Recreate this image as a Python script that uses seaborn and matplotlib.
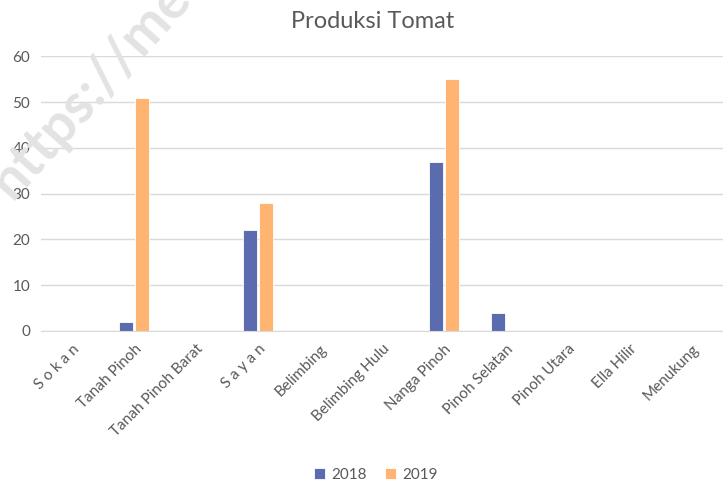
import matplotlib.pyplot as plt
import pandas as pd
import seaborn as sns

kecamatan = ["S o k a n", "Tanah Pinoh", "Tanah Pinoh Barat", "S a y a n", "Belimbing",
             "Belimbing Hulu", "Nanga Pinoh", "Pinoh Selatan", "Pinoh Utara", "Ella Hilir", "Menukung"]
prod_2018 = [0, 2, 0, 22, 0, 0, 37, 4, 0, 0, 0]
prod_2019 = [0, 51, 0, 28, 0, 0, 55, 0, 0, 0, 0]
years = ["2018", "2019"]

df = pd.DataFrame({"Kecamatan": kecamatan * 2,
                   "Tahun": [years[0]] * len(kecamatan) + [years[1]] * len(kecamatan),
                   "Produksi": prod_2018 + prod_2019})

sns.set_style("white")
plt.rcParams["font.family"] = ["Lato", "DejaVu Sans"]
grey = "#595959"

fig = plt.figure(figsize=(7.23, 4.86), dpi=100)
ax = fig.add_axes([0.057, 0.319, 0.943, 0.565])

sns.barplot(data=df, x="Kecamatan", y="Produksi", hue="Tahun",
            palette=["#5B6BB0", "#FFB471"], saturation=1, width=0.52, gap=0.12,
            edgecolor="white", linewidth=0.6, ax=ax)

ax.set_ylim(0, 60)
ax.set_xlim(-0.5, len(kecamatan) - 0.5)
ax.set_yticks(range(0, 61, 10))
ax.yaxis.grid(True, color="#D9D9D9", lw=1)
ax.set_axisbelow(True)
for s in ["left", "right", "top"]:
    ax.spines[s].set_visible(False)
ax.spines["bottom"].set_color("#D9D9D9")
ax.tick_params(axis="both", length=0, labelsize=11, colors=grey, pad=8)
ax.set_xticks(range(len(kecamatan)))
ax.set_xticklabels(kecamatan, rotation=45, ha="right", rotation_mode="anchor")
ax.set_xlabel("")
ax.set_ylabel("")

fig.text(0.515, 0.955, "Produksi Tomat", ha="center", va="center", fontsize=17, color=grey)

ax.legend_.remove()
handles, labels = ax.get_legend_handles_labels()
fig.legend(handles, labels, loc="center", bbox_to_anchor=(0.52, 0.023), ncol=2, frameon=False,
           fontsize=11, handlelength=0.7, handleheight=0.7, columnspacing=1.2,
           handletextpad=0.4, labelcolor=grey)

# watermark
fig.text(0.125, 0.815, "https://me", rotation=48, fontsize=40, fontweight="bold",
         color="#E3E3E3", ha="center", va="center", zorder=5)

fig.savefig("out.png", dpi=100)
